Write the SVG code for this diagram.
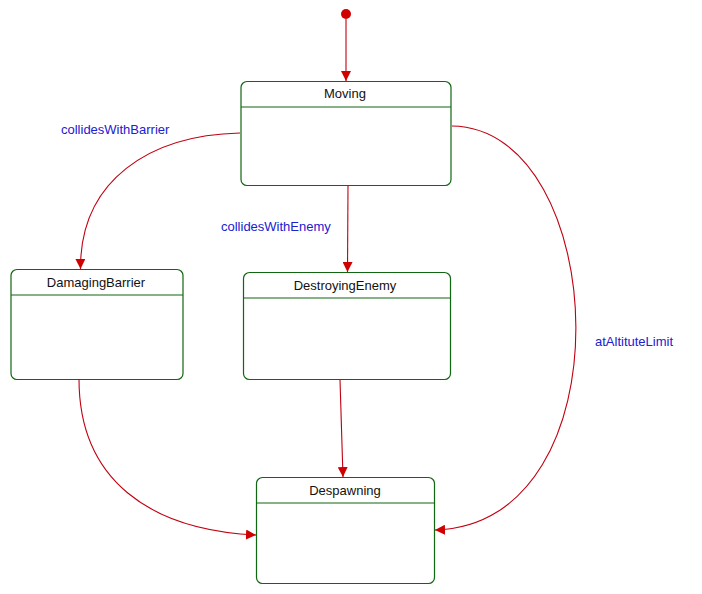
<svg xmlns="http://www.w3.org/2000/svg" width="702" height="594" viewBox="0 0 702 594">
  <style>
    .state { fill: #ffffff; stroke: #116611; stroke-width: 1.2; }
    .div { stroke: #116611; stroke-width: 1.2; }
    .name { font-family: "Liberation Sans", Arial, sans-serif; font-size: 13px; fill: #111111; text-anchor: middle; }
    .edge { fill: none; stroke: #c00010; stroke-width: 1.1; marker-end: url(#arrow); }
    .label { font-family: "Liberation Sans", Arial, sans-serif; font-size: 13px; fill: #2020d0; }
  </style>
  <defs>
    <marker id="arrow" viewBox="0 0 10 10" refX="10" refY="5" markerWidth="10" markerHeight="10" markerUnits="userSpaceOnUse" orient="auto">
      <path d="M0,0 L10,5 L0,10 z" fill="#d00000"/>
    </marker>
  </defs>
  <rect width="702" height="594" fill="#ffffff"/>

  <g id="initial">
    <circle cx="346" cy="14" r="5" fill="#d00000"/>
  </g>

  <g id="Moving">
    <rect class="state" x="241" y="81.5" width="210" height="104" rx="6"/>
    <line class="div" x1="241" y1="107" x2="451" y2="107"/>
    <text class="name" x="345" y="98">Moving</text>
  </g>

  <g id="DamagingBarrier">
    <rect class="state" x="11" y="269.5" width="172" height="110" rx="6"/>
    <line class="div" x1="11" y1="295" x2="183" y2="295"/>
    <text class="name" x="96" y="287">DamagingBarrier</text>
  </g>

  <g id="DestroyingEnemy">
    <rect class="state" x="243.5" y="272.5" width="207" height="107" rx="6"/>
    <line class="div" x1="243.5" y1="298" x2="450.5" y2="298"/>
    <text class="name" x="345" y="290">DestroyingEnemy</text>
  </g>

  <g id="Despawning">
    <rect class="state" x="256.5" y="477.5" width="178" height="106" rx="6"/>
    <line class="div" x1="256.5" y1="503" x2="434.5" y2="503"/>
    <text class="name" x="345" y="495">Despawning</text>
  </g>

  <g id="connectors">
    <path class="edge" d="M346,19 L346,81"/>
    <path class="edge" d="M240,133 C150,135 80,180 80.5,269"/>
    <path class="edge" d="M348,186 L347.5,272"/>
    <path class="edge" d="M452,126 C610,128 630,525 435,530"/>
    <path class="edge" d="M79,379 C79,480 150,530 256,535"/>
    <path class="edge" d="M340,380 L343,477"/>
  </g>

  <g id="labels">
    <text class="label" x="61" y="134">collidesWithBarrier</text>
    <text class="label" x="221" y="231">collidesWithEnemy</text>
    <text class="label" x="595" y="346">atAltituteLimit</text>
  </g>
</svg>
